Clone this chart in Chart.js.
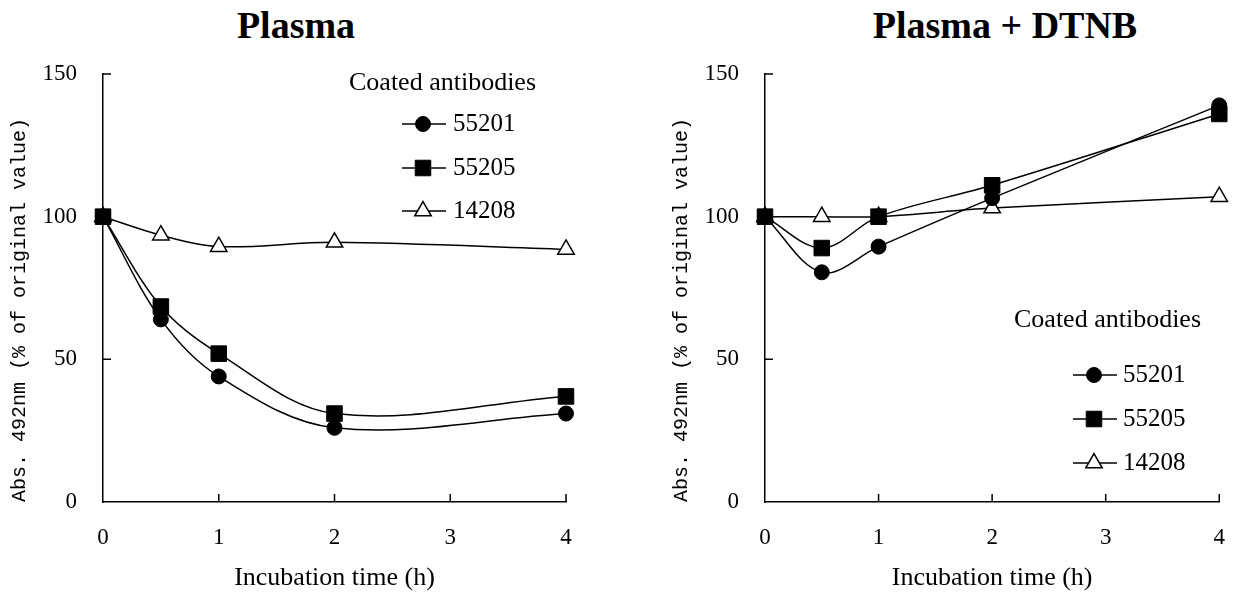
<!DOCTYPE html>
<html><head><meta charset="utf-8">
<script src="https://cdn.jsdelivr.net/npm/chart.js"></script>
<style>
html,body{margin:0;padding:0;background:#fff;overflow:hidden;width:1247px;height:594px;position:relative}
.t{position:absolute;top:6px;font-family:"Liberation Serif",serif;font-weight:bold;font-size:38px;line-height:38px;white-space:nowrap;transform:translateX(-50%);color:#000}
.w{position:absolute;top:0}
</style></head><body>
<div class="t" id="t1" style="left:296px"></div>
<div class="t" id="t2" style="left:1005px"></div>
<div class="w" style="left:0"><canvas id="c1" width="620" height="594"></canvas></div>
<div class="w" style="left:662px"><canvas id="c2" width="585" height="594"></canvas></div>
<script>
// ---- data ----
const chartTitles = ["Plasma", "Plasma + DTNB"];
const seriesNames = ["55201", "55205", "14208"];
const legendTitle = "Coated antibodies";
const times = [0, 0.5, 1, 2, 4];
const plasma55201 = [100, 64, 44, 26, 31];
const plasma55205 = [100, 68.5, 52, 31, 37];
const plasma14208 = [100, 93.5, 89.5, 91, 88.5];
const dtnb55201 = [100, 80.5, 89.5, 106.5, 139];
const dtnb55205 = [100, 89, 100, 111, 136];
const dtnb14208 = [100, 100, 100, 103, 107];
const xTickValues = [0, 1, 2, 3, 4];
const yTickValues = [0, 50, 100, 150];
const xAxisTitle = "Incubation time (h)";
const yAxisTitle = "Abs. 492nm (% of original value)";

document.getElementById('t1').textContent = chartTitles[0];
document.getElementById('t2').textContent = chartTitles[1];

const styles = [
  {pointStyle: 'circle', pointRadius: 7.5, pointBackgroundColor: '#000', pointBorderWidth: 1, order: 1},
  {pointStyle: 'rect', pointRadius: 11, pointBackgroundColor: '#000', pointBorderWidth: 1, order: 0},
  {pointStyle: 'triangle', pointRadius: 9.5, pointBackgroundColor: '#fff', pointBorderWidth: 1.5, order: 2}
];

function makeDatasets(seriesList) {
  return seriesList.map((vals, i) => Object.assign({
    label: seriesNames[i],
    data: times.map((t, j) => ({x: t, y: vals[j]})),
    borderColor: '#000',
    borderWidth: 1.5,
    pointBorderColor: '#000',
    tension: 0.35,
    clip: false,
    fill: false
  }, styles[i]));
}

const inwardTicks = {
  id: 'inwardTicks',
  afterDraw(chart) {
    const ctx = chart.ctx, xs = chart.scales.x, ys = chart.scales.y, a = chart.chartArea;
    ctx.save();
    ctx.strokeStyle = '#000'; ctx.lineWidth = 1.5;
    ctx.beginPath();
    xs.ticks.forEach(t => { if (t.value === 0) return; const px = xs.getPixelForValue(t.value); ctx.moveTo(px, a.bottom); ctx.lineTo(px, a.bottom - 8); });
    ys.ticks.forEach(t => { if (t.value === 0) return; const py = ys.getPixelForValue(t.value); ctx.moveTo(a.left, py); ctx.lineTo(a.left + 8, py); });
    ctx.stroke();
    ctx.restore();
  }
};

function drawMarker(ctx, ds, x, y) {
  if (Chart.helpers && Chart.helpers.drawPoint) {
    Chart.helpers.drawPoint(ctx, {pointStyle: ds.pointStyle, radius: ds.pointRadius, rotation: 0, borderWidth: ds.pointBorderWidth}, x, y);
    return;
  }
  ctx.beginPath();
  const r = ds.pointRadius;
  if (ds.pointStyle === 'circle') ctx.arc(x, y, r, 0, Math.PI * 2);
  else if (ds.pointStyle === 'rect') { const s = r * Math.SQRT1_2; ctx.rect(x - s, y - s, 2 * s, 2 * s); }
  else { ctx.moveTo(x, y - r); ctx.lineTo(x + r * 0.866, y + r / 2); ctx.lineTo(x - r * 0.866, y + r / 2); ctx.closePath(); }
  ctx.fill(); ctx.stroke();
}

const boxLegend = {
  id: 'boxLegend',
  afterDraw(chart, args, o) {
    const ctx = chart.ctx;
    ctx.save();
    ctx.fillStyle = '#000'; ctx.textBaseline = 'middle'; ctx.textAlign = 'left';
    ctx.font = '26px "Liberation Serif"';
    ctx.fillText(legendTitle, o.titleX, o.titleY);
    chart.data.datasets.forEach((ds, i) => {
      const y = o.rowsY[i];
      ctx.strokeStyle = '#000'; ctx.lineWidth = 1.5;
      ctx.beginPath(); ctx.moveTo(o.lineX1, y); ctx.lineTo(o.lineX2, y); ctx.stroke();
      ctx.fillStyle = ds.pointBackgroundColor; ctx.strokeStyle = '#000'; ctx.lineWidth = ds.pointBorderWidth;
      drawMarker(ctx, ds, o.markerX, y);
      ctx.fillStyle = '#000';
      ctx.font = '25px "Liberation Serif"';
      ctx.fillText(ds.label, o.textX, y);
    });
    ctx.restore();
  }
};

function makeChart(id, seriesList, padRight, legendOpts) {
  return new Chart(document.getElementById(id), {
    type: 'line',
    data: {datasets: makeDatasets(seriesList)},
    plugins: [inwardTicks, boxLegend],
    options: {
      responsive: false,
      animation: false,
      events: [],
      layout: {autoPadding: false, padding: {left: 0, top: 74, right: padRight, bottom: 0}},
      plugins: {legend: {display: false}, tooltip: {enabled: false}, title: {display: false}, boxLegend: legendOpts},
      scales: {
        x: {
          type: 'linear', min: 0, max: 4,
          afterBuildTicks: s => { s.ticks = xTickValues.map(v => ({value: v})); },
          afterFit: s => { s.height = 92; },
          grid: {display: false, drawTicks: false},
          border: {display: true, color: '#000', width: 1.5},
          ticks: {padding: 22, color: '#000', maxRotation: 0, font: {family: '"Liberation Serif"', size: 23}},
          title: {display: true, text: xAxisTitle, color: '#000', padding: {top: 0, bottom: 0}, font: {family: '"Liberation Serif"', size: 26}}
        },
        y: {
          type: 'linear', min: 0, max: 150,
          afterBuildTicks: s => { s.ticks = yTickValues.map(v => ({value: v})); },
          afterFit: s => { s.width = 103; },
          grid: {display: false, drawTicks: false},
          border: {display: true, color: '#000', width: 1.5},
          ticks: {padding: 26, color: '#000', font: {family: '"Liberation Serif"', size: 23}},
          title: {display: true, text: yAxisTitle, color: '#000', align: 'start', padding: {top: 8, bottom: 0}, font: {family: '"Liberation Mono"', size: 20}}
        }
      }
    }
  });
}

makeChart('c1', [plasma55201, plasma55205, plasma14208], 54,
  {titleX: 349, titleY: 83, rowsY: [124, 168, 211], lineX1: 402, lineX2: 446, markerX: 423, textX: 453});
makeChart('c2', [dtnb55201, dtnb55205, dtnb14208], 18,
  {titleX: 352, titleY: 320, rowsY: [375, 419, 463], lineX1: 411, lineX2: 455, markerX: 432, textX: 461});
</script>
</body></html>
